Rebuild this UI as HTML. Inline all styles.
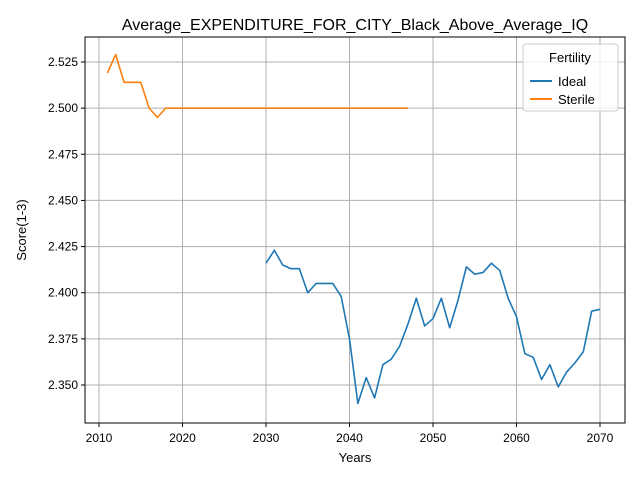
<!DOCTYPE html>
<html><head><meta charset="utf-8"><style>
body{margin:0;background:#fff;}
svg text{font-family:"Liberation Sans","DejaVu Sans",sans-serif;}
</style></head><body>
<svg id="chart" width="640" height="480" xmlns="http://www.w3.org/2000/svg">
<rect width="640" height="480" fill="#fff"/>
<text x="355" y="30" font-size="16" text-anchor="middle">Average_EXPENDITURE_FOR_CITY_Black_Above_Average_IQ</text>
<g id="grid"></g>
<g id="series"></g>
<rect x="85" y="37" width="540" height="386" fill="none" stroke="#000" stroke-width="1"/>
<g id="ticks"></g>
<text x="355" y="462" font-size="13" text-anchor="middle">Years</text>
<text transform="translate(26,230) rotate(-90)" font-size="13" text-anchor="middle">Score(1-3)</text>
<g>
<rect x="523" y="44" width="95" height="67" rx="3" fill="#fff" fill-opacity="0.8" stroke="#ccc"/>
<text x="570" y="62" font-size="13" text-anchor="middle">Fertility</text>
<line x1="530" y1="81" x2="552" y2="81" stroke="#1f77b4" stroke-width="2"/>
<text x="558" y="86" font-size="13">Ideal</text>
<line x1="530" y1="99" x2="552" y2="99" stroke="#ff7f0e" stroke-width="2"/>
<text x="558" y="104" font-size="13">Sterile</text>
</g>
</svg>
<script>
const xTicks=[2010,2020,2030,2040,2050,2060,2070];
const yTicks=[2.350,2.375,2.400,2.425,2.450,2.475,2.500,2.525];
const idealYears=[2030,2031,2032,2033,2034,2035,2036,2037,2038,2039,2040,2041,2042,2043,2044,2045,2046,2047,2048,2049,2050,2051,2052,2053,2054,2055,2056,2057,2058,2059,2060,2061,2062,2063,2064,2065,2066,2067,2068,2069,2070];
const idealValues=[2.416,2.423,2.415,2.413,2.413,2.400,2.405,2.405,2.405,2.398,2.375,2.340,2.354,2.343,2.361,2.364,2.371,2.383,2.397,2.382,2.386,2.397,2.381,2.396,2.414,2.410,2.411,2.416,2.412,2.397,2.387,2.367,2.365,2.353,2.361,2.349,2.357,2.362,2.368,2.390,2.391];
const sterileYears=[2011,2012,2013,2014,2015,2016,2017,2018,2019,2020,2021,2022,2023,2024,2025,2026,2027,2028,2029,2030,2031,2032,2033,2034,2035,2036,2037,2038,2039,2040,2041,2042,2043,2044,2045,2046,2047];
const sterileValues=[2.519,2.529,2.514,2.514,2.514,2.500,2.495,2.500,2.500,2.500,2.500,2.500,2.500,2.500,2.500,2.500,2.500,2.500,2.500,2.500,2.500,2.500,2.500,2.500,2.500,2.500,2.500,2.500,2.500,2.500,2.500,2.500,2.500,2.500,2.500,2.500,2.500];
const NS="http://www.w3.org/2000/svg";
const xs=v=>99+(v-2010)*(600-99)/60;
const ys=v=>385-(v-2.35)*(385-62)/0.175;
const grid=document.getElementById('grid'),ticks=document.getElementById('ticks'),series=document.getElementById('series');
function mk(tag,attrs,parent){const e=document.createElementNS(NS,tag);for(const k in attrs)e.setAttribute(k,attrs[k]);parent.appendChild(e);return e;}
xTicks.forEach(t=>{const x=xs(t);
const g=mk('line',{x1:x,x2:x,y1:37,y2:423,stroke:'#b0b0b0','stroke-width':1},grid);


mk('line',{x1:x,x2:x,y1:423,y2:427,stroke:'#000'},ticks);
const tx=mk('text',{x:x,y:442,'font-size':12,'text-anchor':'middle'},ticks);tx.textContent=t;

});
yTicks.forEach(t=>{const y=ys(t);
const g=mk('line',{x1:85,x2:625,y1:y,y2:y,stroke:'#b0b0b0','stroke-width':1},grid);


mk('line',{x1:81,x2:85,y1:y,y2:y,stroke:'#000'},ticks);
const tx=mk('text',{x:78,y:y+4,'font-size':12,'text-anchor':'end'},ticks);tx.textContent=t.toFixed(3);

});
function line(xv,yv,color,name){const p=mk('polyline',{points:xv.map((x,i)=>xs(x)+','+ys(yv[i])).join(' '),fill:'none',stroke:color,'stroke-width':1.6,'stroke-linejoin':'round'},series);

}
line(idealYears,idealValues,'#1f77b4','ideal-line');
line(sterileYears,sterileValues,'#ff7f0e','sterile-line');
</script>
</body></html>
